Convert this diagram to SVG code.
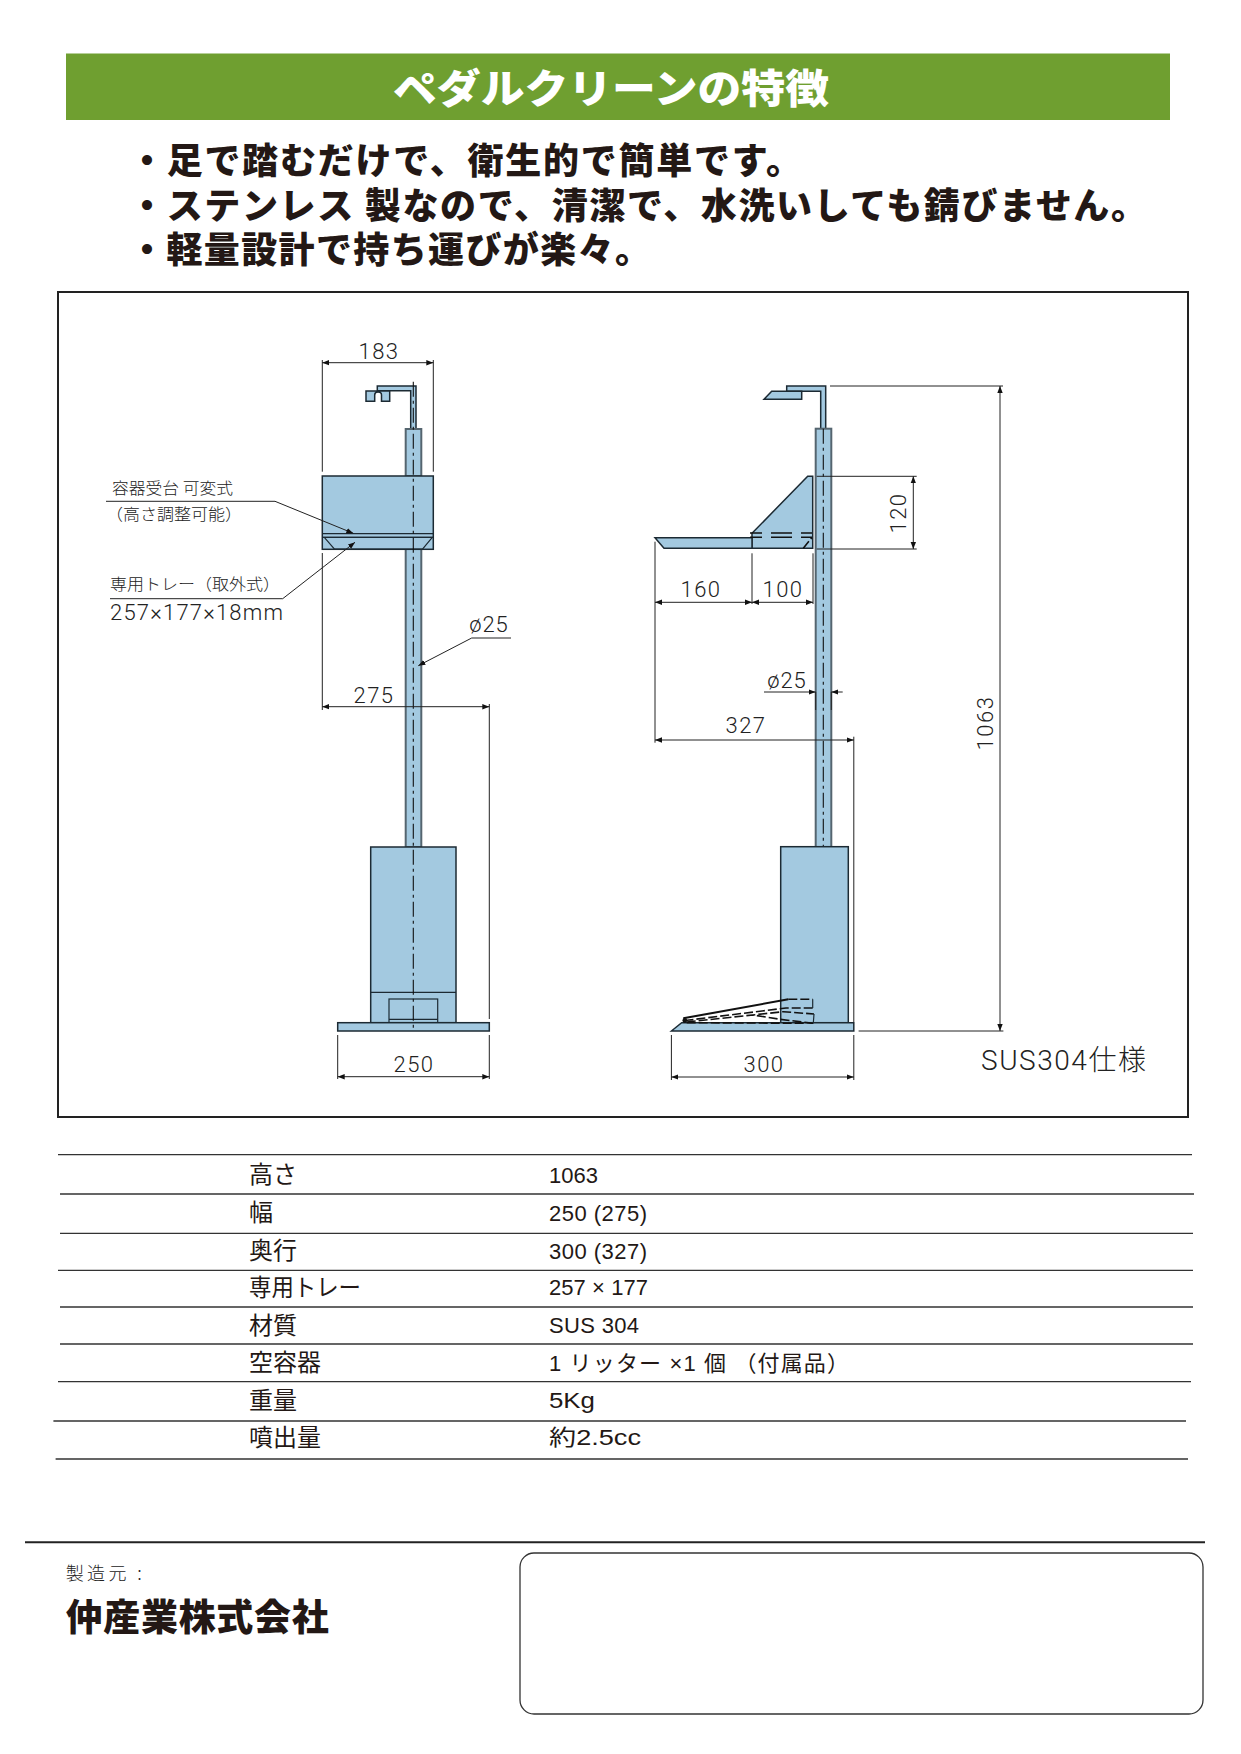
<svg xmlns="http://www.w3.org/2000/svg" width="1241" height="1754" viewBox="0 0 1241 1754">
<defs>
<marker id="arr" markerUnits="userSpaceOnUse" markerWidth="8" markerHeight="6" refX="7" refY="3" orient="auto-start-reverse"><path d="M0 .3L7 3L0 5.700z" fill="#111"/></marker>
</defs>
<style>
text{font-family:"Liberation Sans","Noto Sans CJK JP",sans-serif;fill:#231815}
.jb{font-family:"Noto Sans CJK JP",sans-serif;font-weight:900}
.title{font-size:40px;fill:#fff}
.feat{font-size:36px}
.dim{font-family:"Roboto","Noto Sans CJK JP",sans-serif;font-size:22px;font-weight:300;fill:#222}
.note{font-family:"Noto Sans CJK JP",sans-serif;font-size:16px;font-weight:300;fill:#222}
.cell{font-size:22px}
.cj{font-family:"Noto Sans CJK JP",sans-serif;font-size:24px;font-weight:400}
.body{fill:#a3c9e0;stroke:#1c2a33;stroke-width:1.500}
.pipe{fill:#a3c9e0;stroke:#55656f;stroke-width:2}
.thin{fill:none;stroke:#1c2a33;stroke-width:1.200}
.cen{fill:none;stroke:#111;stroke-width:1.100;stroke-dasharray:15 4 3 4}
.dash{fill:none;stroke:#111;stroke-width:1.500;stroke-dasharray:21 9}
.pd{fill:none;stroke:#111;stroke-width:1.600;stroke-dasharray:9 3}
.dl{fill:none;stroke:#222;stroke-width:1}
.ar{marker-start:url(#arr);marker-end:url(#arr)}
.rule{stroke:#333;stroke-width:1.300}
</style>
<g id="header">
<rect x="66" y="53.500" width="1104" height="66.500" fill="#6f9f30"/>
<text class="jb title" x="393" y="103" textLength="436" lengthAdjust="spacingAndGlyphs">ペダルクリーンの特徴</text>
</g>
<g id="features">
<text class="jb feat" x="129" y="174" textLength="673" lengthAdjust="spacing">・足で踏むだけで、衛生的で簡単です。</text>
<text class="jb feat" x="129" y="219" textLength="1018" lengthAdjust="spacing">・ステンレス 製なので、清潔で、水洗いしても錆びません。</text>
<text class="jb feat" x="129" y="263" textLength="522" lengthAdjust="spacing">・軽量設計で持ち運びが楽々。</text>
</g>
<rect id="frame" x="58" y="292" width="1130" height="825" fill="none" stroke="#222" stroke-width="2"/>
<g id="front-view">
<path class="body" d="M410.700 429V390.700H377.300V386H416V429z"/>
<path class="body" d="M366 391H389.700V401.300H381.500V395Q381.500 392 378 392Q374.700 392 374.700 395V401.300H366z"/>
<rect class="pipe" x="405.700" y="429" width="15.600" height="47"/>
<rect class="pipe" x="405.700" y="549" width="15.600" height="298"/>
<rect class="body" x="322.300" y="476" width="111" height="73.300"/>
<path class="thin" d="M322.300 533.700H433.300M322.300 537.300H433.300"/>
<path class="thin" d="M324.300 537.300H432.300L422.700 549H334.300z"/>
<rect class="body" x="370.700" y="847" width="85.300" height="175.700"/>
<path class="thin" d="M370.700 992.300H456"/>
<rect class="thin" x="389" y="999" width="48.700" height="24"/>
<path class="thin" d="M389 1019.300H437.700"/>
<rect class="body" x="337.700" y="1022.700" width="151.600" height="8.300"/>
<path class="cen" d="M413.300 381.700V1031"/>
</g>
<g id="side-view">
<path class="body" d="M820.700 428.700V391.300H786.700V386H825.700V428.700z"/>
<path class="body" d="M764 399.300L771.700 391.300H801.700V399.300z"/>
<rect class="pipe" x="815.700" y="428.700" width="15.600" height="418.300"/>
<path class="body" d="M752 533.300L807.700 476.300H812.700V548.300H752z"/>
<path class="body" d="M655 537.700H752V548.300H664z"/>
<path class="dash" d="M750 533H812M750 537.300H812" stroke-dashoffset="9"/>
<path class="pd" d="M803.300 548.300L811.700 537.700"/>
<path class="cen" d="M823.300 428.700V847"/>
<rect class="body" x="780.700" y="846.700" width="67.600" height="176"/>
<path class="body" d="M671.400 1031L681.700 1022.700H853.800V1031z"/>
<path d="M683.300 1018.300L788.300 999.300" fill="none" stroke="#111" stroke-width="2"/>
<path class="pd" d="M788.300 999.300H812.700M812.700 1008H786L685 1020.500M686.700 1022L783.300 1011.700L814 1014M813.300 1023.300L780 1019.300L753 1015M686.700 1022.700L813.300 1023.300"/>
<path class="thin" d="M812.700 999.300V1008M814 1014L813.300 1023.300" stroke-width="1.600"/>
<circle cx="684.800" cy="1020.500" r="2.400" fill="#111"/>
</g>
<g id="connectors">
<path class="dl" d="M322.300 360V471.700M433.300 360V471.700M322.300 553V710M489.300 704V1019M337.700 1035V1079M489.300 1035V1079"/>
<path class="dl ar" d="M322.300 362.700H433.300"/>
<path class="dl ar" d="M322.300 706.700H489.300"/>
<path class="dl ar" d="M337.700 1076.700H489.300"/>
<path class="dl" d="M106 501.300H275L353.300 533.300" marker-end="url(#arr)"/>
<path class="dl" d="M110 598.700H282.700L355 542.300" marker-end="url(#arr)"/>
<path class="dl" d="M511 638H471.700L418.300 665.700" marker-end="url(#arr)"/>
<path class="dl" d="M816.700 476.300H916.700M816.700 549H916.700M830 386H1003M858.600 1031H1003.400"/>
<path class="dl ar" d="M913.300 476.300V549"/>
<path class="dl ar" d="M1000 386V1031"/>
<path class="dl" d="M752 553.300V604M813 553.300V604M655 541.700V742.700M853.800 736.700V1022M671.400 1035V1080M853.800 1035V1080"/>
<path class="dl ar" d="M655 602.300H752"/>
<path class="dl ar" d="M752 602.300H813"/>
<path class="dl ar" d="M655 740H853.800"/>
<path class="dl ar" d="M671.400 1077H853.800"/>
<path class="dl" d="M764 692H815.700" marker-end="url(#arr)"/>
<path class="dl" d="M842.700 692H831.300" marker-end="url(#arr)"/>
<path class="dl" d="M815.700 692V710M831.300 692V710" stroke-width="1.500"/>
</g>
<g id="dimension-labels" text-anchor="middle">
<text class="dim" x="379" y="359" letter-spacing="1.500">183</text>
<text class="dim" x="374" y="703" letter-spacing="1.500">275</text>
<text class="dim" x="414" y="1072" letter-spacing="1.500">250</text>
<text class="dim" x="489" y="632" letter-spacing="1">ø25</text>
<text class="dim" x="701" y="597" letter-spacing="1.500">160</text>
<text class="dim" x="783" y="597" letter-spacing="1.500">100</text>
<text class="dim" x="787" y="688" letter-spacing="1">ø25</text>
<text class="dim" x="746" y="733" letter-spacing="1.500">327</text>
<text class="dim" x="764" y="1072" letter-spacing="1.500">300</text>
<text class="dim" transform="translate(906 513) rotate(-90)" letter-spacing="1.500">120</text>
<text class="dim" transform="translate(993 723) rotate(-90)" letter-spacing="1.500">1063</text>
</g>
<g id="notes">
<text class="note" x="112" y="494" textLength="121" lengthAdjust="spacingAndGlyphs">容器受台 可変式</text>
<text class="note" x="174" y="520" text-anchor="middle" textLength="136" lengthAdjust="spacingAndGlyphs">（高さ調整可能）</text>
<text class="note" x="110" y="590" textLength="170" lengthAdjust="spacingAndGlyphs">専用トレー（取外式）</text>
<text class="dim" x="110" y="620" textLength="173" lengthAdjust="spacing">257×177×18mm</text>
<text class="dim" x="981" y="1070" style="font-size:28px" textLength="165" lengthAdjust="spacing">SUS304仕様</text>
</g>
<g id="spec-table">
<path class="rule" d="M58 1154.700H1192M60 1194H1194M60 1233.300H1193M58 1270.300H1193M60 1307H1193M60 1344H1193M58 1381.700H1191M53.400 1421H1186M55.600 1459H1188"/>
<text class="cj" x="249" y="1183">高さ</text><text class="cell" x="549" y="1183">1063</text>
<text class="cj" x="249" y="1221">幅</text><text class="cell" x="549" y="1221" textLength="98">250 (275)</text>
<text class="cj" x="249" y="1259">奥行</text><text class="cell" x="549" y="1259" textLength="98">300 (327)</text>
<text class="cj" x="249" y="1296" textLength="112" lengthAdjust="spacingAndGlyphs">専用トレー</text><text class="cell" x="549" y="1295" textLength="99">257 × 177</text>
<text class="cj" x="249" y="1334">材質</text><text class="cell" x="549" y="1333" textLength="90">SUS 304</text>
<text class="cj" x="249" y="1371">空容器</text><text class="cell" x="549" y="1371" textLength="300">1 リッター ×1 個 （付属品）</text>
<text class="cj" x="249" y="1409">重量</text><text class="cell" x="549" y="1408" textLength="46" lengthAdjust="spacingAndGlyphs">5Kg</text>
<text class="cj" x="249" y="1446">噴出量</text><text class="cell" x="549" y="1445" textLength="92" lengthAdjust="spacingAndGlyphs">約2.5cc</text>
</g>
<g id="footer">
<path d="M25 1542.300H1205" stroke="#222" stroke-width="2"/>
<text class="note" x="65.700" y="1580" style="font-size:18px" textLength="76" lengthAdjust="spacing">製造元 :</text>
<text class="jb" x="65.700" y="1631" style="font-size:37px" textLength="263" lengthAdjust="spacing">仲産業株式会社</text>
<rect x="520" y="1553" width="683" height="161" rx="14" ry="14" fill="none" stroke="#333" stroke-width="1.300"/>
</g>
</svg>
